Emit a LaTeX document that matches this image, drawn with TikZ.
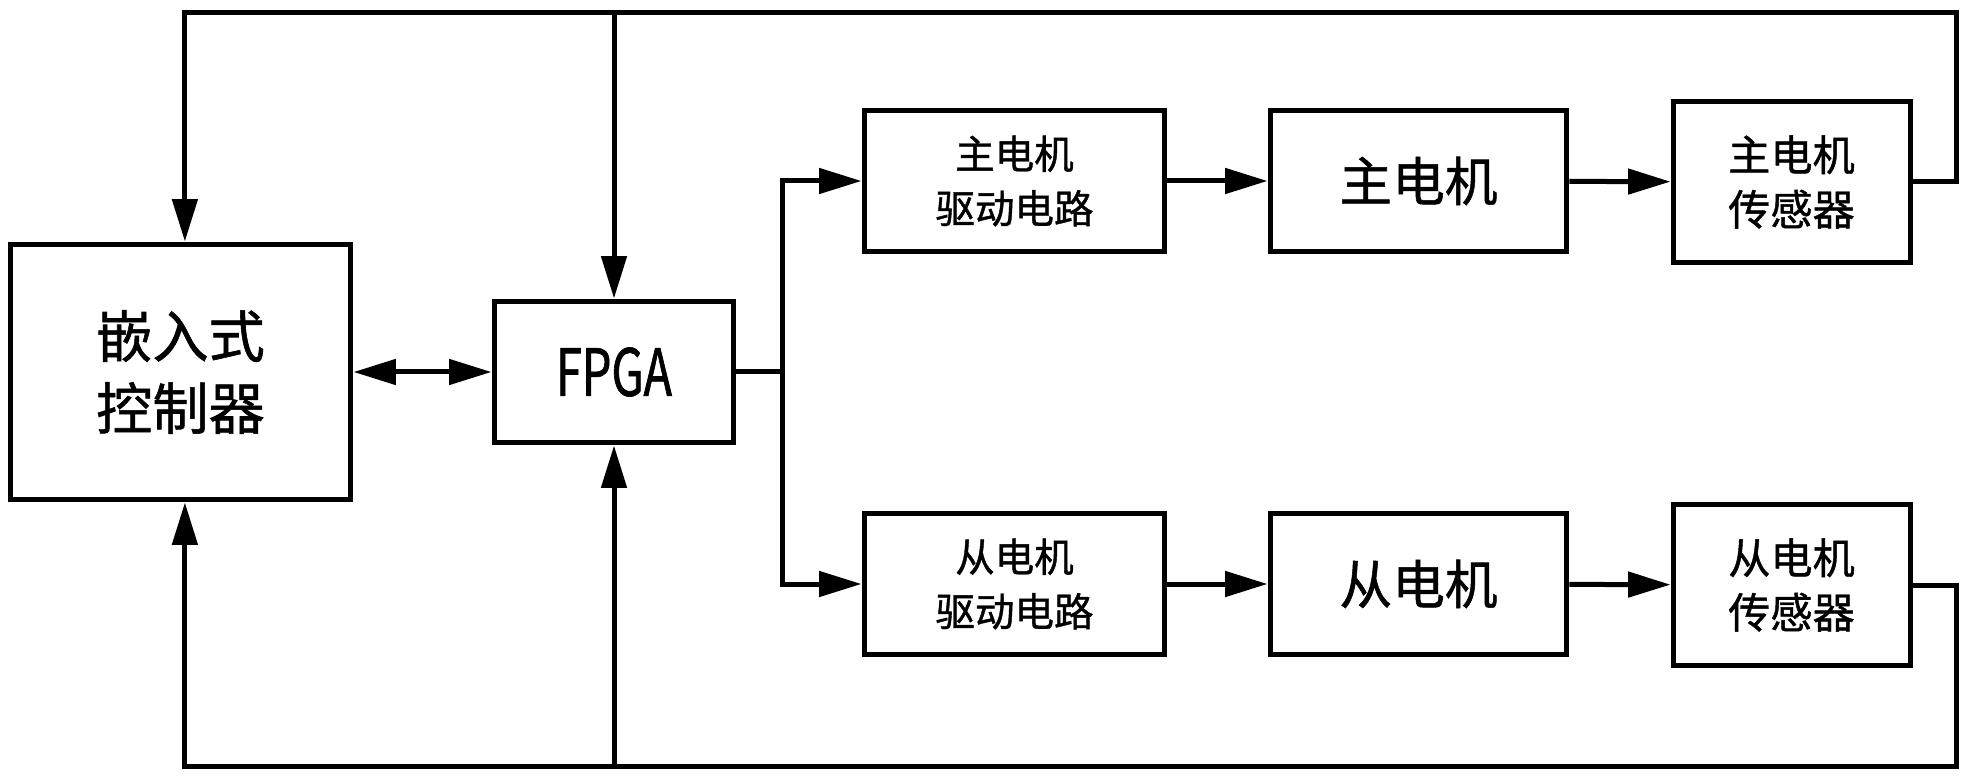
\documentclass[tikz,border=0pt]{standalone}
\usepackage{fontspec}
\setmainfont[FakeBold=1]{Noto Sans CJK SC}
\newfontfamily\narrowfont[FakeStretch=0.72, FakeBold=1]{Noto Sans CJK SC}
\usetikzlibrary{arrows.meta}

\tikzset{
  blk/.style={draw, line width=0.1cm, align=center, inner sep=0pt},
  link/.style={line width=0.1cm},
  arr/.style={link, -{Triangle[length=0.85cm, width=0.5cm]}},
  dbl/.style={link, {Triangle[length=0.85cm, width=0.5cm]}-{Triangle[length=0.85cm, width=0.5cm]}},
}

\begin{document}
\begin{tikzpicture}[x=0.02cm, y=-0.02cm]
\useasboundingbox (0,0) rectangle (1981,780);

% controller and FPGA
\node (ctrl) at (180.5,372) [blk, minimum width=6.82cm, minimum height=5.12cm,
  font=\fontsize{32pt}{41pt}\selectfont] {嵌入式\\控制器};
\node (fpga) at (614,372) [blk, minimum width=4.8cm, minimum height=2.84cm,
  font=\narrowfont\fontsize{37pt}{37pt}\selectfont] {FPGA};

% master chain
\begin{scope}[every node/.style={blk, minimum height=2.84cm}]
\node (mdrv) at (1014.5,181) [minimum width=6.02cm, font=\fontsize{22.5pt}{31pt}\selectfont] {主电机\\驱动电路};
\node (mmot) at (1418.5,181) [minimum width=5.94cm, font=\fontsize{30pt}{30pt}\selectfont] {主电机};
\node (msens) at (1791.5,182) [minimum width=4.74cm, minimum height=3.24cm, font=\fontsize{24pt}{31pt}\selectfont] {主电机\\传感器};
\end{scope}

% slave chain
\begin{scope}[every node/.style={blk, minimum height=2.84cm}]
\node (sdrv) at (1014.5,584) [minimum width=6.02cm, font=\fontsize{22.5pt}{31pt}\selectfont] {从电机\\驱动电路};
\node (smot) at (1418.5,584) [minimum width=5.94cm, font=\fontsize{30pt}{30pt}\selectfont] {从电机};
\node (ssens) at (1791.5,585) [minimum width=4.74cm, minimum height=3.24cm, font=\fontsize{24pt}{31pt}\selectfont] {从电机\\传感器};
\end{scope}

\coordinate (br) at (782,372);
\coordinate (tr) at (1956,13);
\coordinate (btr) at (1956,766);

\draw[dbl] (ctrl) -- (fpga);
\draw[link] (fpga) -- (br);
\draw[arr] (br) |- (mdrv);
\draw[arr] (br) |- (sdrv);
\draw[arr] (mdrv) -- (mmot);
\draw[arr] (mmot) -- (msens);
\draw[arr] (sdrv) -- (smot);
\draw[arr] (smot) -- (ssens);

% feedback loops
\draw[arr] (msens.east) -| (tr) -| ([xshift=2.5]ctrl.north);
\draw[arr] (fpga.north |- tr) -- (fpga.north);
\draw[arr] (ssens.east) -| (btr) -| ([xshift=2.5]ctrl.south);
\draw[arr] (fpga.south |- btr) -- (fpga.south);
\end{tikzpicture}
\end{document}
